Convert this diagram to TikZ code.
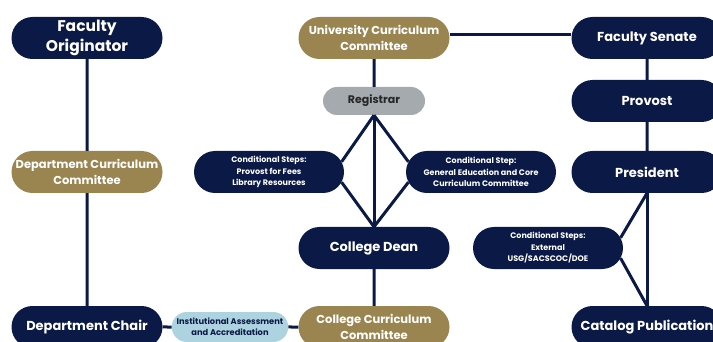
\documentclass[tikz,border=0pt]{standalone}
\usepackage{fontspec}
\setmainfont{Poppins}
\usetikzlibrary{positioning, shapes.misc}
\definecolor{gsnavy}{HTML}{0B1946}
\definecolor{gsgold}{HTML}{9A8551}
\definecolor{gsgray}{HTML}{A4AAAD}
\definecolor{gslight}{HTML}{AED3E0}

\begin{document}
\begin{tikzpicture}[
    x=1pt, y=1pt,
    on grid,
    pill/.style={rounded rectangle, minimum width=155pt, minimum height=42pt,
                 inner sep=2pt, align=center,
                 font=\bfseries\fontsize{13}{15}\selectfont},
    navybox/.style={pill, fill=gsnavy, text=white},
    goldbox/.style={pill, fill=gsgold, text=white,
                    font=\bfseries\fontsize{11.5}{15.5}\selectfont},
    condbox/.style={navybox, minimum width=154pt,
                    font=\bfseries\fontsize{8}{11.5}\selectfont},
    link/.style={gsnavy, line width=3pt}
]
\useasboundingbox (0,0) rectangle (713,-342);

% --- Department side (left column) ---
\node[navybox, font=\bfseries\fontsize{15.5}{20}\selectfont] (orig) at (87,-38) {Faculty\\Originator};
\node[goldbox, below=134pt of orig] (dcc)   {Department Curriculum\\Committee};
\node[navybox, below=155pt of dcc]  (chair) {Department Chair};

% --- College and university (middle column) ---
\node[goldbox, right=287pt of orig] (ucc)  {University Curriculum\\Committee};
\node[pill, fill=gsgray, text=black!85, minimum width=106pt, minimum height=28pt,
      font=\bfseries\fontsize{11}{13}\selectfont, below=63pt of ucc] (reg) {Registrar};
\node[navybox, below=210pt of ucc] (dean) {College Dean};
\node[goldbox, below=79pt of dean] (ccc)  {College Curriculum\\Committee};
\node[pill, fill=gslight, text=gsnavy, minimum width=114pt, minimum height=30pt,
      font=\bfseries\fontsize{8.3}{11}\selectfont, right=143pt of chair] (assess)
      {Institutional Assessment\\and Accreditation};

% --- Conditional steps ---
\node[condbox, below left=71pt and 105pt of reg]  (provfees) {Conditional Steps:\\Provost for Fees\\Library Resources};
\node[condbox, below right=71pt and 107pt of reg] (gecore)   {Conditional Step:\\General Education and Core\\Curriculum Committee};

% --- Senate and administration (right column) ---
\node[navybox, right=273pt of ucc]       (senate)  {Faculty Senate};
\node[navybox, below=63pt of senate]     (provost) {Provost};
\node[navybox, below=71pt of provost]    (pres)    {President};
\node[navybox, below=155pt of pres]      (catalog) {Catalog Publication};
\node[condbox, below left=76pt and 99pt of pres] (extern) {Conditional Steps:\\External\\USG/SACSCOC/DOE};

% --- Links ---
\draw[link] (orig)  -- (dcc);
\draw[link] (dcc)   -- (chair);
\draw[link] (chair) -- (assess);
\draw[link] (assess) -- (ccc);
\draw[link] (ccc)   -- (dean);
\draw[link] (ucc)   -- (reg);
\draw[link] (reg.south) -- (dean.north);
\draw[link] (reg.south) -- (provfees.8);
\draw[link] (provfees.-8) -- (dean.north);
\draw[link] (reg.south) -- (gecore.172);
\draw[link] (gecore.188) -- (dean.north);
\draw[link] ([yshift=3pt]ucc.east) -- ([yshift=3pt]senate.west);
\draw[link] (senate) -- (provost);
\draw[link] (provost) -- (pres);
\draw[link] (pres.south) -- (catalog.north);
\draw[link] (pres.south) -- (extern.8);
\draw[link] (extern.-8) -- (catalog.north);

\end{tikzpicture}
\end{document}
